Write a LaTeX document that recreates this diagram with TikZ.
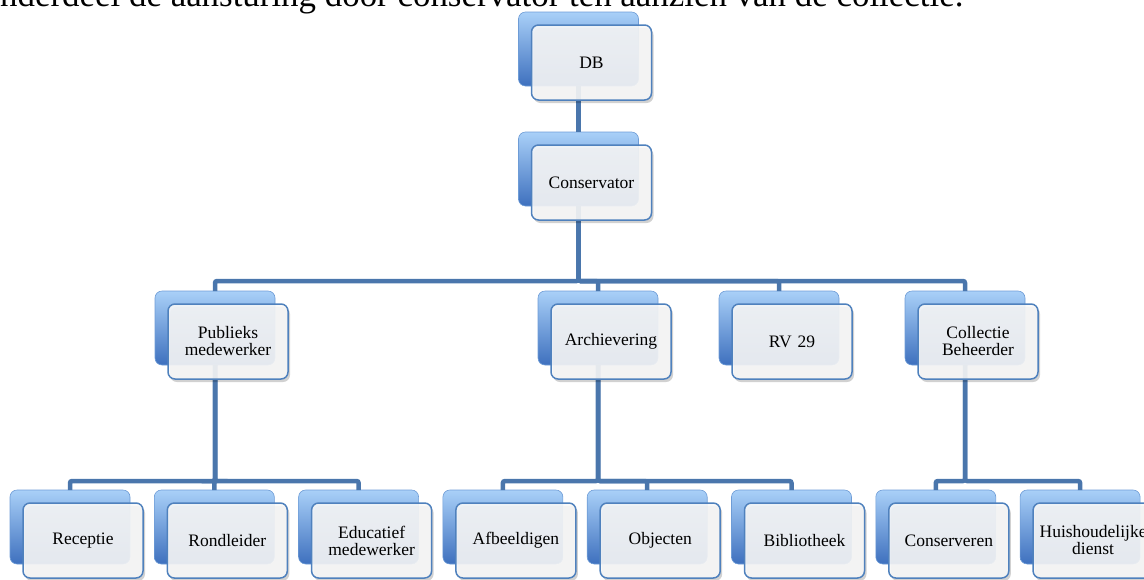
\documentclass[tikz,border=0pt]{standalone}
\usepackage{fontspec}
\setmainfont{Liberation Serif}
\usepackage{tikz}
\usetikzlibrary{shapes,positioning,shadows}
\definecolor{backtop}{HTML}{A9D0F8}
\definecolor{backmid}{HTML}{6A9DE2}
\definecolor{backbottom}{HTML}{3E70BE}
\definecolor{backline}{HTML}{6E9CD6}
\definecolor{frontline}{HTML}{4F81BD}
\definecolor{frontfill}{HTML}{F8F8F8}
\definecolor{linkblue}{HTML}{4A76AC}
\tikzstyle{back} = [rectangle, rounded corners=7pt, minimum width=120pt, minimum height=74pt, inner sep=0pt, outer sep=0pt, draw=backline, line width=0.6pt, top color=backtop, middle color=backmid, bottom color=backbottom]
\tikzstyle{front} = [rectangle, rounded corners=7pt, minimum width=120pt, minimum height=75pt, text width=112pt, align=center, inner sep=0pt, outer sep=0pt, draw=frontline, line width=1.5pt, fill=frontfill, fill opacity=0.9, text opacity=1, font=\fontsize{17.5}{17}\selectfont, drop shadow={shadow xshift=2pt, shadow yshift=-3pt, fill=black, opacity=0.18}]
\tikzstyle{link} = [line width=4.5pt, draw=linkblue, rounded corners=2pt]

\begin{document}
\begin{tikzpicture}[x=1pt, y=-1pt]
	\useasboundingbox (0,0) rectangle (1144,579);
	\node[anchor=base west, inner sep=0pt, font=\fontsize{34.9}{34.9}\selectfont] (intro) at (0,6) {nderdeel de aansturing door conservator ten aanzien van de collectie.};
	
	% back boxes
	\node[back, anchor=north west] (db) at (518.5,12) {};
	\node[back, below=46pt of db] (cons) {};
	\node[back, anchor=north west] (pub) at (155,291) {};
	\node[back, anchor=north west] (arch) at (538,291) {};
	\node[back, anchor=north west] (rv) at (719,291) {};
	\node[back, anchor=north west] (coll) at (905,291) {};
	\node[back, anchor=north west] (rec) at (10,490) {};
	\node[back, right=24.3pt of rec] (rond) {};
	\node[back, right=24.3pt of rond] (edu) {};
	\node[back, right=24.3pt of edu] (afb) {};
	\node[back, right=24.3pt of afb] (obj) {};
	\node[back, right=24.3pt of obj] (bib) {};
	\node[back, right=24.3pt of bib] (consv) {};
	\node[back, right=24.3pt of consv] (huis) {};
	
	% connectors
	\draw[link] (db.south) -- (cons.north);
	\draw[link] (cons.south) -- ++(0,-75pt) -| (pub.north);
	\draw[link] (cons.south) -- ++(0,-75pt) -| (arch.north);
	\draw[link] (cons.south) -- ++(0,-75pt) -| (rv.north);
	\draw[link] (cons.south) -- ++(0,-75pt) -| (coll.north);
	\draw[link] (pub.south) -- ++(0,-116pt) -| (rec.north);
	\draw[link] (pub.south) -- ++(0,-116pt) -| (rond.north);
	\draw[link] (pub.south) -- ++(0,-116pt) -| (edu.north);
	\draw[link] (arch.south) -- ++(0,-116pt) -| (afb.north);
	\draw[link] (arch.south) -- ++(0,-116pt) -| (obj.north);
	\draw[link] (arch.south) -- ++(0,-116pt) -| (bib.north);
	\draw[link] (coll.south) -- ++(0,-116pt) -| (consv.north);
	\draw[link] (coll.south) -- ++(0,-116pt) -| (huis.north);
	
	% front boxes with the texts
	\node[front, below right=13pt and 13pt of db.north west] (dbt) {DB};
	\node[front, below right=13pt and 13pt of cons.north west] (const) {Conservator};
	\node[front, below right=13pt and 13pt of pub.north west] (pubt) {Publieks\\medewerker};
	\node[front, below right=13pt and 13pt of arch.north west] (archt) {Archievering};
	\node[front, below right=13pt and 13pt of rv.north west] (rvt) {RV 29};
	\node[front, below right=13pt and 13pt of coll.north west] (collt) {Collectie\\Beheerder};
	\node[front, below right=13pt and 13pt of rec.north west] (rect) {Receptie};
	\node[front, below right=13pt and 13pt of rond.north west] (rondt) {Rondleider};
	\node[front, below right=13pt and 13pt of edu.north west] (edut) {Educatief\\medewerker};
	\node[front, below right=13pt and 13pt of afb.north west] (afbt) {Afbeeldigen};
	\node[front, below right=13pt and 13pt of obj.north west] (objt) {Objecten};
	\node[front, below right=13pt and 13pt of bib.north west] (bibt) {Bibliotheek};
	\node[front, below right=13pt and 13pt of consv.north west] (consvt) {Conserveren};
	\node[front, below right=13pt and 13pt of huis.north west] (huist) {Huishoudelijke\\dienst};
\end{tikzpicture}
\end{document}
